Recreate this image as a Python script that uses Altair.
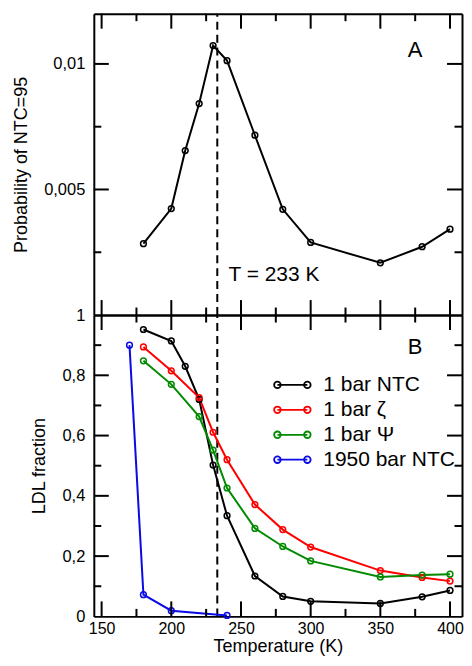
import altair as alt
import pandas as pd

FONT = "Liberation Sans"

# ---------------- data ----------------
# Panel A: probability of NTC = 95
temps_a = [180, 200, 210, 220, 230, 240, 260, 280, 300, 350, 380, 400]
prob_a = [0.00284, 0.00424, 0.00655, 0.00842, 0.01073, 0.01013,
          0.00716, 0.00421, 0.00289, 0.00208, 0.00272, 0.00342]

# Panel B: LDL fraction
SERIES = ["1 bar NTC", "1 bar \u03b6", "1 bar \u03a8", "1950 bar NTC"]
COLORS = ["#000000", "#ff0000", "#008b00", "#0a0ae6"]
temps_ntc = [180, 200, 210, 220, 230, 240, 260, 280, 300, 350, 380, 400]
ldl_ntc = [0.952, 0.914, 0.830, 0.720, 0.502, 0.334, 0.134, 0.066, 0.050, 0.043, 0.065, 0.086]
temps_zeta = [180, 200, 220, 230, 240, 260, 280, 300, 350, 380, 400]
ldl_zeta = [0.894, 0.815, 0.726, 0.611, 0.520, 0.371, 0.288, 0.230, 0.152, 0.129, 0.117]
temps_psi = [180, 200, 220, 230, 240, 260, 280, 300, 350, 380, 400]
ldl_psi = [0.848, 0.770, 0.663, 0.552, 0.426, 0.292, 0.232, 0.184, 0.131, 0.137, 0.140]
temps_1950 = [170, 180, 200, 240]
ldl_1950 = [0.900, 0.072, 0.019, 0.003]

T_TRANSITION = [233]
ANNOT_TEXT = ["T = 233 K"]
ANNOT_X = [241]
ANNOT_Y = [0.0016]
PANEL_A = ["A"]
PANEL_A_X = [375]
PANEL_A_Y = [0.01055]
PANEL_B = ["B"]
PANEL_B_X = [375]
PANEL_B_Y = [0.894]

X_DOMAIN = [144.4, 408.6]
X_MAJOR = [150, 200, 250, 300, 350, 400]
X_MINOR = [175, 225, 275, 325, 375]
YA_DOMAIN = [0, 0.012]
YA_MAJOR = [0.005, 0.01]
YA_MINOR = [0.0025, 0.0075]
YB_DOMAIN = [0, 1]
YB_LABELS = [0, 0.2, 0.4, 0.6, 0.8, 1.0]
YB_MAJOR = [0.2, 0.4, 0.6, 0.8]
YB_MINOR = [0.1, 0.3, 0.5, 0.7, 0.9]

W, H = 369, 302
MAJOR, MINOR = 15, 7.5   # tick lengths in pixels

xs = alt.Scale(domain=X_DOMAIN, nice=False, zero=False)
ya = alt.Scale(domain=YA_DOMAIN, nice=False, zero=False)
yb = alt.Scale(domain=YB_DOMAIN, nice=False, zero=False)


def tick_layer(y_major, y_minor, ydom):
    """Inward ticks on all four sides, drawn as rules through the scales."""
    xpp = (X_DOMAIN[1] - X_DOMAIN[0]) / W      # data units per pixel
    ypp = (ydom[1] - ydom[0]) / H
    rows = []
    for vals, L in [(X_MAJOR, MAJOR), (X_MINOR, MINOR)]:
        for v in vals:
            rows.append({"tx": v, "tx2": v, "ty": ydom[0], "ty2": ydom[0] + L * ypp})
            rows.append({"tx": v, "tx2": v, "ty": ydom[1], "ty2": ydom[1] - L * ypp})
    for vals, L in [(y_major, MAJOR), (y_minor, MINOR)]:
        for v in vals:
            rows.append({"tx": X_DOMAIN[0], "tx2": X_DOMAIN[0] + L * xpp, "ty": v, "ty2": v})
            rows.append({"tx": X_DOMAIN[1], "tx2": X_DOMAIN[1] - L * xpp, "ty": v, "ty2": v})
    yscale = alt.Scale(domain=ydom, nice=False, zero=False)
    return alt.Chart(pd.DataFrame(rows)).mark_rule(color="black", strokeWidth=2).encode(
        x=alt.X("tx:Q", scale=xs, axis=None), x2="tx2:Q",
        y=alt.Y("ty:Q", scale=yscale, axis=None), y2="ty2:Q",
    )


def dashed_rule(ydom):
    df = pd.DataFrame({"T": T_TRANSITION, "y0": [ydom[0]], "y1": [ydom[1]]})
    yscale = alt.Scale(domain=ydom, nice=False, zero=False)
    return alt.Chart(df).mark_rule(color="black", strokeWidth=2, strokeDash=[8, 5]).encode(
        x=alt.X("T:Q", scale=xs, axis=None),
        y=alt.Y("y0:Q", scale=yscale, axis=None), y2="y1:Q",
    )


# ---------------- panel A ----------------
df_a = pd.DataFrame({"T": temps_a, "P": prob_a})
line_a = alt.Chart(df_a).mark_line(
    color="black", strokeWidth=2,
    point=alt.OverlayMarkDef(filled=False, size=33, strokeWidth=1.5, color="black"),
).encode(
    x=alt.X("T:Q", scale=xs, axis=alt.Axis(orient="bottom", labels=False, title=None,
                                           grid=False, ticks=False, domain=True)),
    y=alt.Y("P:Q", scale=ya, axis=alt.Axis(
        orient="left", values=YA_MAJOR, format="~g",
        labelExpr="replace(datum.label, '.', ',')",
        title="Probability of NTC=95", labelPadding=9, titlePadding=13,
        grid=False, ticks=False, domain=True)),
)

df_annot = pd.DataFrame({"label": ANNOT_TEXT, "x": ANNOT_X, "y": ANNOT_Y})
annot_a = alt.Chart(df_annot).mark_text(
    font=FONT, fontSize=21, align="left", baseline="middle", color="black"
).encode(
    x=alt.X("x:Q", scale=xs, axis=None),
    y=alt.Y("y:Q", scale=ya, axis=None),
    text="label:N",
)

df_pa = pd.DataFrame({"label": PANEL_A, "x": PANEL_A_X, "y": PANEL_A_Y})
letter_a = alt.Chart(df_pa).mark_text(
    font=FONT, fontSize=22, align="center", baseline="middle", color="black"
).encode(
    x=alt.X("x:Q", scale=xs, axis=alt.Axis(orient="top", labels=False, title=None,
                                           grid=False, ticks=False, domain=True)),
    y=alt.Y("y:Q", scale=ya, axis=alt.Axis(orient="right", labels=False, title=None,
                                           grid=False, ticks=False, domain=True)),
    text="label:N",
)

top = alt.layer(
    dashed_rule(YA_DOMAIN), line_a, tick_layer(YA_MAJOR, YA_MINOR, YA_DOMAIN), annot_a, letter_a
).resolve_axis(x="independent", y="independent").properties(width=W, height=H)

# ---------------- panel B ----------------
rows = []
for name, ts, vs in zip(SERIES,
                        [temps_ntc, temps_zeta, temps_psi, temps_1950],
                        [ldl_ntc, ldl_zeta, ldl_psi, ldl_1950]):
    for t, v in zip(ts, vs):
        rows.append({"T": t, "LDL": v, "series": name})
df_b = pd.DataFrame(rows)

LEG_PATH = ("M-1.5,0L1.5,0"
            "M-1.17,0A0.33,0.33,0,1,1,-1.83,0A0.33,0.33,0,1,1,-1.17,0Z"
            "M1.83,0A0.33,0.33,0,1,1,1.17,0A0.33,0.33,0,1,1,1.83,0Z")

line_b = alt.Chart(df_b).mark_line(
    strokeWidth=2, point=alt.OverlayMarkDef(filled=False, size=33, strokeWidth=1.5)
).encode(
    x=alt.X("T:Q", scale=xs, axis=alt.Axis(
        orient="bottom", values=X_MAJOR, format="d", title="Temperature (K)",
        labelFontSize=16, labelPadding=4, titlePadding=1,
        grid=False, ticks=False, domain=True)),
    y=alt.Y("LDL:Q", scale=yb, axis=alt.Axis(
        orient="left", values=YB_LABELS, format="~g",
        labelExpr="replace(datum.label, '.', ',')",
        title="LDL fraction", labelPadding=9, titlePadding=13,
        grid=False, ticks=False, domain=True)),
    color=alt.Color("series:N", sort=SERIES,
                    scale=alt.Scale(domain=SERIES, range=COLORS),
                    legend=alt.Legend(title=None, orient="none", legendX=188, legendY=361,
                                      symbolType=LEG_PATH, symbolSize=400,
                                      symbolStrokeWidth=1.8, symbolFillColor="transparent",
                                      labelFont=FONT, labelFontSize=21, labelColor="black",
                                      labelOffset=20, rowPadding=4, padding=0)),
)

df_pb = pd.DataFrame({"label": PANEL_B, "x": PANEL_B_X, "y": PANEL_B_Y})
letter_b = alt.Chart(df_pb).mark_text(
    font=FONT, fontSize=22, align="center", baseline="middle", color="black"
).encode(
    x=alt.X("x:Q", scale=xs, axis=alt.Axis(orient="top", labels=False, title=None,
                                           grid=False, ticks=False, domain=True)),
    y=alt.Y("y:Q", scale=yb, axis=alt.Axis(orient="right", labels=False, title=None,
                                           grid=False, ticks=False, domain=True)),
    text="label:N",
)

bottom = alt.layer(
    dashed_rule(YB_DOMAIN), line_b, tick_layer(YB_MAJOR, YB_MINOR, YB_DOMAIN), letter_b
).resolve_axis(x="independent", y="independent").properties(width=W, height=H)

chart = alt.vconcat(top, bottom, spacing=0, bounds="flush").properties(
    padding={"left": 4, "top": 4, "right": 0, "bottom": 0}
).configure_view(strokeWidth=0).configure_axis(
    labelFont=FONT, labelFontSize=16.5, labelColor="black",
    titleFont=FONT, titleFontSize=18, titleFontWeight="normal", titleColor="black",
    domainColor="black", domainWidth=2, labelFlush=False, tickSize=0,
)

chart.save("out.html", embed_options={"renderer": "svg", "actions": False})
